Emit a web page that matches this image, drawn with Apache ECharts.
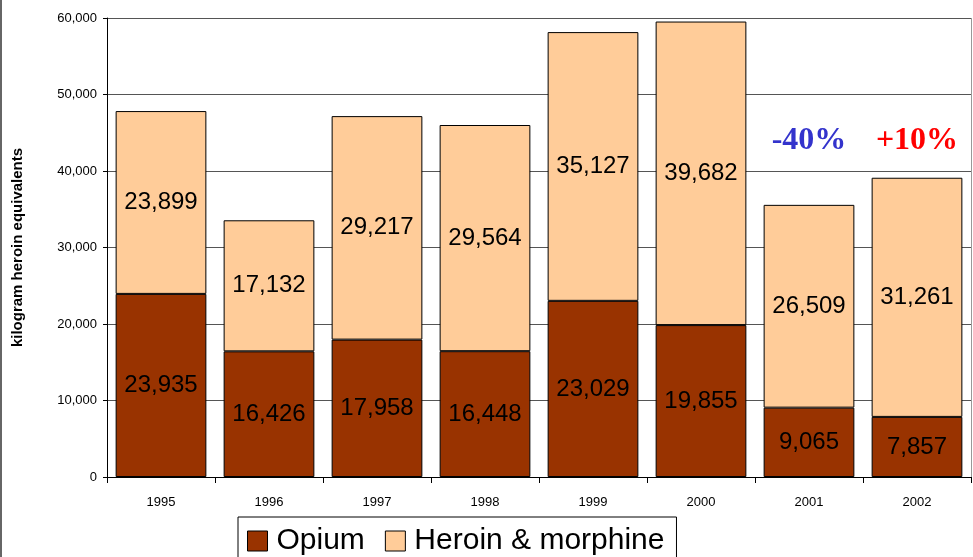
<!DOCTYPE html>
<html><head><meta charset="utf-8">
<script src="https://cdn.jsdelivr.net/npm/echarts@6/dist/echarts.min.js"></script>
<style>html,body{margin:0;padding:0;background:#fff}#c{width:973px;height:557px}</style>
</head><body><div id="c"></div>
<script>
const categories = ['1995','1996','1997','1998','1999','2000','2001','2002'];
const opium = [23935,16426,17958,16448,23029,19855,9065,7857];
const heroin = [23899,17132,29217,29564,35127,39682,26509,31261];
const yTicks = [0,10000,20000,30000,40000,50000,60000];
const annotations = [
  {cat:'2001', y:44000, text:'-40%', color:'#3333CC'},
  {cat:'2002', y:44000, text:'+10%', color:'#FF0000'}
];
const fmt = v => v.toLocaleString('en-US');
const chart = echarts.init(document.getElementById('c'));
const labelStyle = {show:true, position:'inside', fontFamily:'Liberation Sans, Arial', fontSize:24, color:'#000', formatter:p=>fmt(p.value)};
chart.setOption({
  animation:false,
  grid:{left:107,right:2,top:18,bottom:80},
  legend:{
    data:['Opium','Heroin & morphine'],
    left:238, top:517, width:460,
    itemWidth:20, itemHeight:20, itemGap:20,
    borderColor:'#000', borderWidth:1, padding:[9,12,10,9],
    backgroundColor:'#fff',
    textStyle:{fontFamily:'Liberation Sans, Arial', fontSize:30, color:'#000', padding:[0,0,0,4]},
    itemStyle:{borderColor:'#000', borderWidth:1},
    icon:'rect'
  },
  xAxis:{
    type:'category', data:categories,
    axisLine:{lineStyle:{color:'#000'}},
    axisTick:{show:true, length:6, lineStyle:{color:'#000'}},
    axisLabel:{fontFamily:'Liberation Sans, Arial', fontSize:13, color:'#000', margin:19}
  },
  yAxis:{
    type:'value', min:yTicks[0], max:yTicks[yTicks.length-1], interval:10000,
    name:'kilogram heroin equivalents', nameLocation:'middle', nameGap:82,
    nameTextStyle:{fontFamily:'Liberation Sans, Arial', fontSize:15, fontWeight:'bold', color:'#000'},
    axisLine:{show:true, lineStyle:{color:'#000'}},
    axisTick:{show:true, length:4, lineStyle:{color:'#000'}},
    axisLabel:{fontFamily:'Liberation Sans, Arial', fontSize:13, color:'#000', margin:10, formatter:v=>fmt(v)},
    splitLine:{show:true, lineStyle:{color:'#555', width:1}}
  },
  series:[
    {name:'Opium', type:'bar', stack:'s', data:opium, barCategoryGap:'16%',
     itemStyle:{color:'#993300', borderColor:'#000', borderWidth:1}, label:labelStyle},
    {name:'Heroin & morphine', type:'bar', stack:'s', data:heroin,
     itemStyle:{color:'#FFCC99', borderColor:'#000', borderWidth:1}, label:labelStyle,
     markPoint:{
       symbol:'rect', symbolSize:1, itemStyle:{color:'transparent'},
       data:annotations.map(a=>({coord:[a.cat,a.y], value:a.text,
         label:{show:true, position:'inside', formatter:a.text, fontFamily:'Liberation Serif, Times New Roman', fontWeight:'bold', fontSize:32, color:a.color}}))
     }}
  ],
  graphic:[
    {type:'line', shape:{x1:1,y1:0,x2:1,y2:557}, style:{stroke:'#333', lineWidth:1.5}},
    {type:'line', shape:{x1:971.5,y1:18,x2:971.5,y2:477}, style:{stroke:'#999', lineWidth:1}}
  ]
});
</script></body></html>
